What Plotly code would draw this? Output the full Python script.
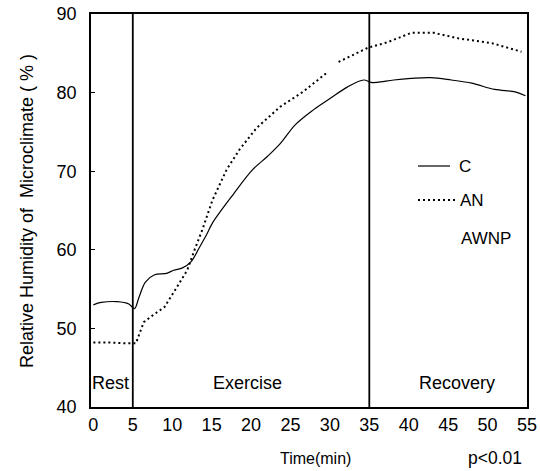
import plotly.graph_objects as go

# Control (C) - solid
c_time = [0, 1, 3, 4.5, 5.2, 5.8, 6.6, 7.7, 9.3, 10.2, 11.3, 12.4, 13.4, 14.4, 15.1,
          17.7, 20.2, 22.1, 23.7, 25.6, 27.9, 30.1, 32.2, 34.3, 35.2, 36.0, 38.1,
          40.3, 42.8, 45.4, 48.0, 50.9, 53.5, 54.8]
c_rh = [53.0, 53.3, 53.4, 53.1, 52.5, 54.0, 55.9, 56.8, 57.0, 57.4, 57.7, 58.5, 60.2, 62.0, 63.4,
        67.0, 70.2, 71.9, 73.5, 75.9, 77.8, 79.3, 80.7, 81.6, 81.3, 81.3, 81.6,
        81.8, 81.9, 81.6, 81.2, 80.4, 80.1, 79.6]

# AN - dotted (gap near 30 min as in the source)
an_time = [0, 2, 4, 5.4, 5.8, 6.4, 7.3, 9.0, 10.2, 11.3, 11.9, 12.8, 13.8, 15.1, 16.9,
           18.5, 20.7, 23.7, 26.6, 29.7, 30.4, 31.1, 34.8, 37.3, 40.3, 43.2, 46.3,
           50.5, 54.3]
an_rh = [48.2, 48.2, 48.1, 48.1, 49.2, 50.8, 51.5, 52.7, 54.6, 56.4, 57.4, 59.9, 62.5, 66.3, 70.2,
         72.7, 75.5, 78.2, 80.1, 82.6, None, 83.9, 85.7, 86.4, 87.6, 87.6, 86.9,
         86.3, 85.2]

phase_bounds = [5, 35]
phase_labels = ["Rest", "Exercise", "Recovery"]
phase_label_x = [0.0, 19.6, 46.1]
legend_names = ["C", "AN", "AWNP"]
x_ticks = list(range(0, 60, 5))
y_ticks = [40, 50, 60, 70, 80, 90]

FONT = "Liberation Sans, Arial, sans-serif"

# plot area in pixels (for placing paper-referenced texts)
L, R, T, B = 91, 527, 14, 407
def px(x):
    return (x - L) / (R - L)
def py(y):
    return (B - y) / (B - T)

fig = go.Figure()
fig.add_trace(go.Scatter(x=c_time, y=c_rh, mode="lines", name=legend_names[0],
                         line=dict(color="black", width=1.2), line_shape="spline"))
fig.add_trace(go.Scatter(x=an_time, y=an_rh, mode="lines", name=legend_names[1],
                         line=dict(color="black", width=2, dash="2px,3px"),
                         connectgaps=False))

for xb in phase_bounds:
    fig.add_shape(type="line", x0=xb, x1=xb, y0=40, y1=90, xref="x", yref="y",
                  line=dict(color="black", width=1.8))

for lab, lx in zip(phase_labels, phase_label_x):
    fig.add_annotation(x=lx, y=43.1, text=lab, showarrow=False, xref="x", yref="y",
                       xanchor="left" if lab == "Rest" else "center", yanchor="middle",
                       xshift=-3 if lab == "Rest" else 0,
                       font=dict(size=18, color="black", family=FONT))

# manual legend
leg_y = [166, 200, 238]
leg_x1 = [450, 456, None]
leg_dash = ["solid", "2px,3px", None]
leg_tx = [457, 458, 459]
for name, ly, x1, dash, tx in zip(legend_names, leg_y, leg_x1, leg_dash, leg_tx):
    if dash is not None:
        fig.add_shape(type="line", xref="paper", yref="paper",
                      x0=px(418), x1=px(x1), y0=py(ly), y1=py(ly),
                      line=dict(color="black", width=1.2 if dash == "solid" else 2, dash=dash))
    fig.add_annotation(x=px(tx), y=py(ly), xref="paper", yref="paper", text=name,
                       showarrow=False, xanchor="left", yanchor="middle",
                       font=dict(size=17, color="black", family=FONT))

fig.add_annotation(x=px(315), y=py(458), xref="paper", yref="paper", text="Time(min)",
                   xanchor="center", yanchor="middle",
                   showarrow=False, font=dict(size=16, color="black", family=FONT))
fig.add_annotation(x=px(495), y=py(458), xref="paper", yref="paper", text="p&lt;0.01",
                   xanchor="center", yanchor="middle",
                   showarrow=False, font=dict(size=17.5, color="black", family=FONT))
fig.add_annotation(x=px(27), y=py(211), xref="paper", yref="paper",
                   text="Relative Humidity of  Microclimate ( % )", textangle=-90,
                   xanchor="center", yanchor="middle",
                   showarrow=False, font=dict(size=18, color="black", family=FONT))

fig.update_layout(
    width=540, height=471,
    margin=dict(l=L, r=540 - R, t=T, b=471 - B),
    paper_bgcolor="white", plot_bgcolor="white",
    showlegend=False,
    font=dict(family=FONT, color="black", size=18),
)
fig.update_xaxes(range=[-0.3, 55.0], tickvals=x_ticks, ticks="", showgrid=False, zeroline=False,
                 showline=True, linecolor="black", linewidth=1.8, mirror=True, automargin=False,
                 tickfont=dict(size=18), ticklabelstandoff=0)
fig.update_yaxes(range=[40, 90], tickvals=y_ticks, ticks="inside", ticklen=4, tickcolor="black",
                 showgrid=False, zeroline=False, automargin=False,
                 showline=True, linecolor="black", linewidth=1.8, mirror=True,
                 tickfont=dict(size=18), ticklabelstandoff=9)

fig.write_html("out.html")
